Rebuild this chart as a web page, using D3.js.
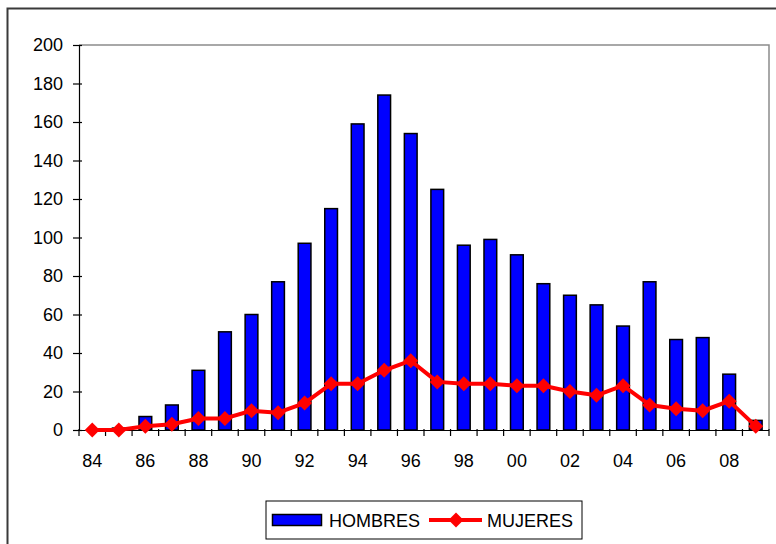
<!DOCTYPE html>
<html><head><meta charset="utf-8">
<script src="https://cdn.jsdelivr.net/npm/d3@7"></script>
<style>
html,body{margin:0;padding:0;background:#fff;}
svg{display:block;font-family:"Liberation Sans",Arial,sans-serif;}
</style></head>
<body>
<svg id="chart" width="776" height="544"></svg>
<script>
const years = ["84","85","86","87","88","89","90","91","92","93","94","95","96","97","98","99","00","01","02","03","04","05","06","07","08","09"];
const hombres = [0,1,7,13,31,51,60,77,97,115,159,174,154,125,96,99,91,76,70,65,54,77,47,48,29,5];
const mujeres = [0,0,2,3,6,6,10,9,14,24,24,31,36,25,24,24,23,23,20,18,23,13,11,10,15,2];
const yTicks = [0,20,40,60,80,100,120,140,160,180,200];
const xLabelYears = ["84","86","88","90","92","94","96","98","00","02","04","06","08"];

const svg = d3.select("#chart");
const L = 79, R = 769, T = 45, B = 430;

// outer border
svg.append("rect").attr("x",7.5).attr("y",8.5).attr("width",800).attr("height",600)
  .attr("fill","none").attr("stroke","#3a3a3a").attr("stroke-width",2);

const x = d3.scaleBand().domain(years).range([L,R]).paddingInner(0).paddingOuter(0);
const y = d3.scaleLinear().domain([0,200]).range([B,T]);

// plot area top/right border
svg.append("path").attr("d",`M${L},${T}H${R}V${B}`).attr("fill","none")
  .attr("stroke","#8c8c8c").attr("stroke-width",1.5);

// bars
const bw = x.bandwidth()*0.48;
svg.append("g").selectAll("rect").data(years).join("rect")
  .attr("x",d=>x(d)+x.bandwidth()/2-bw/2)
  .attr("y",(d,i)=>y(hombres[i]))
  .attr("width",bw)
  .attr("height",(d,i)=>B-y(hombres[i]))
  .attr("fill","#0000ff").attr("stroke","#000").attr("stroke-width",1.5)
  .style("display",(d,i)=>hombres[i]>0?null:"none");

// y axis
const yAxis = d3.axisLeft(y).tickValues(yTicks).tickSize(6).tickPadding(10);
const gy = svg.append("g").attr("transform",`translate(${L},0)`).call(yAxis);
gy.select(".domain").attr("stroke","#000").attr("stroke-width",1.2).attr("d",`M0.5,${B}V${T}`);
gy.selectAll(".tick line").attr("x1",3).attr("x2",-6).attr("stroke","#000").attr("stroke-width",1.2);
gy.selectAll(".tick text").attr("font-size",18).attr("fill","#000").attr("font-family","Liberation Sans, Arial, sans-serif");

// x axis
const xAxis = d3.axisBottom(x).tickSize(0).tickPadding(0)
  .tickFormat(d=>xLabelYears.includes(d)?d:"");
const gx = svg.append("g").attr("transform",`translate(0,${B})`).call(xAxis);
gx.select(".domain").attr("stroke","#000").attr("stroke-width",1.2).attr("d",`M${L},0.5H${R}`);
gx.selectAll(".tick text").attr("font-size",18).attr("fill","#000").attr("dy",0).attr("y",37)
  .attr("font-family","Liberation Sans, Arial, sans-serif");
// boundary ticks
svg.append("g").selectAll("line").data(years.concat(["end"])).join("line")
  .attr("x1",(d,i)=>i<years.length? x(d) : R).attr("x2",(d,i)=>i<years.length? x(d) : R)
  .attr("y1",B-1).attr("y2",B+6).attr("stroke","#000").attr("stroke-width",1.2);

// line
const cx = (d)=>x(d)+x.bandwidth()/2;
const line = d3.line().x((d,i)=>cx(years[i])).y(d=>y(d));
svg.append("path").datum(mujeres).attr("d",line).attr("fill","none")
  .attr("stroke","#ff0000").attr("stroke-width",4).attr("stroke-linejoin","round");
const diamond = d3.symbol().type(d3.symbolDiamond2 || d3.symbolDiamond).size(130);
function dpath(s){ return `M0,${-s}L${s},0L0,${s}L${-s},0Z`; }
svg.append("g").selectAll("path").data(mujeres).join("path")
  .attr("transform",(d,i)=>`translate(${cx(years[i])},${y(d)})`)
  .attr("d",dpath(7.5)).attr("fill","#ff0000");

// legend
const lg = svg.append("g");
lg.append("rect").attr("x",266).attr("y",501).attr("width",316).attr("height",38)
  .attr("fill","#fff").attr("stroke","#000").attr("stroke-width",1);
lg.append("rect").attr("x",272.5).attr("y",514.5).attr("width",49).attr("height",11)
  .attr("fill","#0000ff").attr("stroke","#000").attr("stroke-width",1.5);
lg.append("text").attr("x",329).attr("y",527).attr("font-size",18).text("HOMBRES");
lg.append("line").attr("x1",429).attr("x2",482).attr("y1",520).attr("y2",520)
  .attr("stroke","#ff0000").attr("stroke-width",4);
lg.append("path").attr("transform","translate(456,520)").attr("d",dpath(7.5)).attr("fill","#ff0000");
lg.append("text").attr("x",487).attr("y",527).attr("font-size",18).text("MUJERES");
</script>
</body></html>
